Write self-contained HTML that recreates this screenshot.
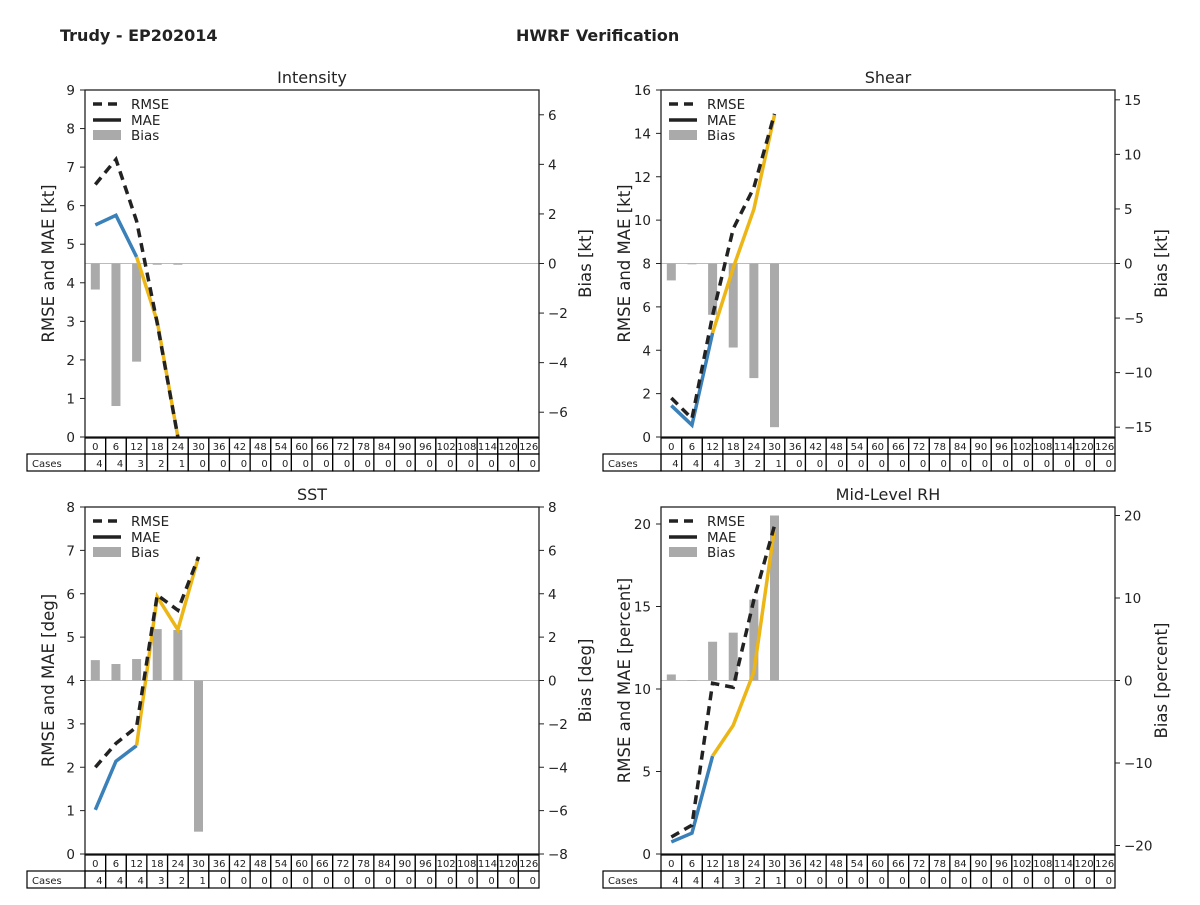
<!DOCTYPE html>
<html><head><meta charset="utf-8"><style>
body{margin:0;background:#fff;width:1200px;height:900px;overflow:hidden}
svg text{font-family:"DejaVu Sans","Liberation Sans",sans-serif}
</style></head><body>
<svg id="s" width="1200" height="900" xmlns="http://www.w3.org/2000/svg">
<text x="60" y="41" font-size="16" font-weight="bold" fill="#222">Trudy - EP202014</text>
<text x="516" y="41" font-size="16" font-weight="bold" fill="#222">HWRF Verification</text>
</svg>
<script>
const leadTimes=[0,6,12,18,24,30,36,42,48,54,60,66,72,78,84,90,96,102,108,114,120,126];
const intCases=[4,4,3,2,1,0,0,0,0,0,0,0,0,0,0,0,0,0,0,0,0,0];
const intRmse=[6.55,7.2,5.6,2.95,0];
const intMae=[5.5,5.75,4.67,3.0,0];
const intBias=[-1.05,-5.75,-3.96,-0.05,-0.05];
const shrCases=[4,4,4,3,2,1,0,0,0,0,0,0,0,0,0,0,0,0,0,0,0,0];
const shrRmse=[1.8,0.85,5.6,9.6,11.5,14.9];
const shrMae=[1.45,0.55,4.8,7.8,10.5,14.85];
const shrBias=[-1.55,-0.05,-4.7,-7.7,-10.5,-15.0];
const sstCases=[4,4,4,3,2,1,0,0,0,0,0,0,0,0,0,0,0,0,0,0,0,0];
const sstRmse=[2.0,2.55,2.93,5.97,5.62,6.85];
const sstMae=[1.02,2.14,2.5,5.93,5.17,6.85];
const sstBias=[0.94,0.76,0.99,2.37,2.33,-6.97];
const rhCases=[4,4,4,3,2,1,0,0,0,0,0,0,0,0,0,0,0,0,0,0,0,0];
const rhRmse=[1.03,1.75,10.35,10.1,15.4,19.9];
const rhMae=[0.73,1.27,5.94,7.8,11.03,19.75];
const rhBias=[0.73,0.05,4.7,5.8,9.8,20.0];

const NS='http://www.w3.org/2000/svg';
const svg=document.getElementById('s');
function mk(tag,attrs,parent,txt){const e=document.createElementNS(NS,tag);for(const k in attrs)e.setAttribute(k,attrs[k]);if(txt!==undefined)e.textContent=txt;(parent||svg).appendChild(e);return e;}
function fmt(v){return v<0?'\u2212'+Math.abs(v):String(v);}

const panels=[
 {id:'intensity',title:'Intensity',x0:85,y0:90,lmax:9,lticks:[0,1,2,3,4,5,6,7,8,9],rmax:7,rticks:[-6,-4,-2,0,2,4,6],ll:'RMSE and MAE [kt]',rl:'Bias [kt]',cases:intCases,rmse:intRmse,mae:intMae,bias:intBias},
 {id:'shear',title:'Shear',x0:661,y0:90,lmax:16,lticks:[0,2,4,6,8,10,12,14,16],rmax:15.9,rticks:[-15,-10,-5,0,5,10,15],ll:'RMSE and MAE [kt]',rl:'Bias [kt]',cases:shrCases,rmse:shrRmse,mae:shrMae,bias:shrBias},
 {id:'sst',title:'SST',x0:85,y0:507,lmax:8,lticks:[0,1,2,3,4,5,6,7,8],rmax:8,rticks:[-8,-6,-4,-2,0,2,4,6,8],ll:'RMSE and MAE [deg]',rl:'Bias [deg]',cases:sstCases,rmse:sstRmse,mae:sstMae,bias:sstBias},
 {id:'rh',title:'Mid-Level RH',x0:661,y0:507,lmax:21.03,lticks:[0,5,10,15,20],rmax:21.03,rticks:[-20,-10,0,10,20],ll:'RMSE and MAE [percent]',rl:'Bias [percent]',cases:rhCases,rmse:rhRmse,mae:rhMae,bias:rhBias}
];
const W=454,H=347,split=2;
panels.forEach(p=>{
 const g=mk('g',{});
 
 
 const cw=W/leadTimes.length;
 const X=i=>p.x0+(i+0.5)*cw;
 const YL=v=>p.y0+H-v/p.lmax*H;
 const YR=v=>p.y0+H/2-v/p.rmax*(H/2);
 const t=mk('text',{x:p.x0+W/2,y:p.y0-7,'font-size':16,'text-anchor':'middle',fill:'#222'},g,p.title);
 
 // zero line
 mk('line',{x1:p.x0,x2:p.x0+W,y1:YR(0),y2:YR(0),stroke:'#bbb','stroke-width':1},g);
 // bars
 p.bias.forEach((b,i)=>{
  const y1=YR(Math.max(b,0)),y2=YR(Math.min(b,0));
  const r=mk('rect',{x:X(i)-4.5,y:y1,width:9,height:Math.max(y2-y1,0.8),fill:'#aaa'},g);
  
 });
 const clip=mk('clipPath',{id:'c'+p.id},g);mk('rect',{x:p.x0,y:p.y0,width:W,height:H},clip);
 const lg=mk('g',{'clip-path':'url(#c'+p.id+')'},g);
 const pts=a=>a.map((v,i)=>X(i)+','+YL(v)).join(' ');
 const m1=mk('polyline',{points:pts(p.mae.slice(0,split+1)),fill:'none',stroke:'#3a80b9','stroke-width':3.5},lg);
 
 const m2=mk('polyline',{points:p.mae.slice(split).map((v,i)=>X(i+split)+','+YL(v)).join(' '),fill:'none',stroke:'#ecb616','stroke-width':3.5},lg);
 
 const rm=mk('polyline',{points:pts(p.rmse),fill:'none',stroke:'#222','stroke-width':3.5,'stroke-dasharray':'9,6'},lg);
 
 // frame
 mk('rect',{x:p.x0,y:p.y0,width:W,height:H,fill:'none',stroke:'#222','stroke-width':1.3},g);
 // left ticks
 p.lticks.forEach(v=>{const y=YL(v);mk('line',{x1:p.x0-5,x2:p.x0,y1:y,y2:y,stroke:'#222'},g);
  mk('text',{x:p.x0-10,y:y+5,'font-size':13.5,'text-anchor':'end',fill:'#222'},g,fmt(v));});
 p.rticks.forEach(v=>{const y=YR(v);mk('line',{x1:p.x0+W,x2:p.x0+W+5,y1:y,y2:y,stroke:'#222'},g);
  mk('text',{x:p.x0+W+9,y:y+5,'font-size':13.5,fill:'#222'},g,fmt(v));});
 const la=mk('text',{x:0,y:0,'font-size':16.5,'text-anchor':'middle',fill:'#222',transform:`translate(${p.x0-31},${p.y0+H/2}) rotate(-90)`},g,p.ll);
 
 const ra=mk('text',{x:0,y:0,'font-size':16.5,'text-anchor':'middle',fill:'#222',transform:`translate(${p.x0+W+52},${p.y0+H/2}) rotate(-90)`},g,p.rl);
 
 // legend
 const lx=p.x0+8,ly=p.y0+14;
 const le=mk('g',{},g);
 mk('line',{x1:lx,x2:lx+28,y1:ly,y2:ly,stroke:'#222','stroke-width':3.5,'stroke-dasharray':'9,6'},le);
 mk('text',{x:lx+38,y:ly+5,'font-size':13.5,fill:'#222'},le,'RMSE');
 mk('line',{x1:lx,x2:lx+28,y1:ly+16,y2:ly+16,stroke:'#222','stroke-width':3.5},le);
 mk('text',{x:lx+38,y:ly+21,'font-size':13.5,fill:'#222'},le,'MAE');
 mk('rect',{x:lx,y:ly+26,width:28,height:10,fill:'#aaa'},le);
 mk('text',{x:lx+38,y:ly+36,'font-size':13.5,fill:'#222'},le,'Bias');
 // table
 const tb=mk('g',{},g);
 const ty=p.y0+H+1;
 mk('rect',{x:p.x0-58,y:ty+16,width:58,height:17,fill:'none',stroke:'#000','stroke-width':1.2},tb);
 mk('text',{x:p.x0-53,y:ty+29,'font-size':10,fill:'#222'},tb,'Cases');
 leadTimes.forEach((lt,i)=>{const cx=p.x0+i*cw;
  mk('rect',{x:cx,y:ty,width:cw,height:16,fill:'none',stroke:'#000','stroke-width':1.2},tb);
  mk('rect',{x:cx,y:ty+16,width:cw,height:17,fill:'none',stroke:'#000','stroke-width':1.2},tb);
  mk('text',{x:cx+cw/2,y:ty+12,'font-size':10,'text-anchor':'middle',fill:'#222'},tb,String(lt));
  mk('text',{x:cx+cw-3,y:ty+29,'font-size':10,'text-anchor':'end',fill:'#222'},tb,String(p.cases[i]));
 });
});
</script>
</body></html>
